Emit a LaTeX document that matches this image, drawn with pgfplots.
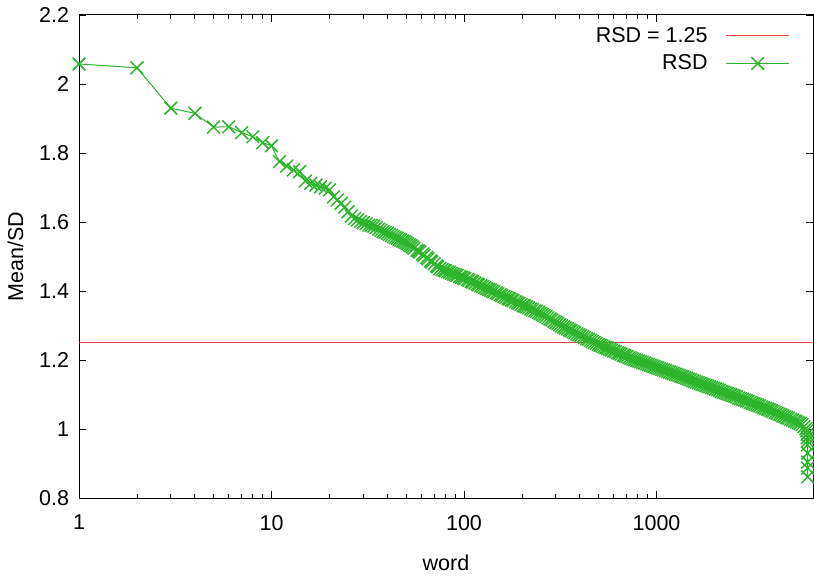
\documentclass[border=0pt]{standalone}
\usepackage{fontspec}
\setmainfont{Liberation Sans}
\usepackage{pgfplots}
\pgfplotsset{compat=1.18}
\definecolor{gpred}{RGB}{235,70,70}
\definecolor{gpgreen}{RGB}{44,181,44}
\begin{document}
\begin{tikzpicture}
\begin{axis}[
  at={(79bp,80bp)}, anchor=south west,
  scale only axis, width=734bp, height=483bp,
  xmode=log, xmin=1, xmax=6500,
  ymin=0.8, ymax=2.2,
  xtick={1,10,100,1000}, xticklabels={1,10,100,1000},
  ytick={0.8,1,1.2,1.4,1.6,1.8,2,2.2},
  /pgf/number format/assume math mode=true,
  tick pos=both, tick align=inside,
  major tick length=7bp, minor tick length=4bp,
  every tick/.style={black, line width=0.9bp},
  axis line style={black, line width=1bp},
  font=\fontsize{21.5bp}{26bp}\selectfont,
  every tick label/.append style={inner sep=0pt, outer sep=0pt},
  yticklabel style={xshift=-10bp},
  xticklabel style={yshift=-17bp},
  every axis x label/.style={at={(axis description cs:0.5,-0.118)}, anchor=north, inner sep=0pt},
  every axis y label/.style={at={(axis description cs:-0.0763,0.5)}, rotate=90, anchor=base, inner sep=0pt},
  xlabel={word}, ylabel={Mean/SD},
  legend plot pos=right,
  legend cell align=right,
  legend style={draw=none, fill=none, at={(axis description cs:0.9687,0.9586)}, anchor=north east,
    inner sep=0pt, column sep=18bp, row sep=13.4bp,
    nodes={inner sep=0pt, text height=0.7em, text depth=0.15em}},
  legend image code/.code={\draw[mark repeat=2,mark phase=2,#1] plot coordinates {(0bp,0.36em) (31.5bp,0.36em) (63bp,0.36em)};},
]
\addplot[gpred, line width=1.3bp] coordinates {(1,1.25) (6500,1.25)};
\addlegendentry{RSD = 1.25}
\addplot[gpgreen, line width=1bp, mark=x, mark size=9bp, mark options={line width=1.5bp}] coordinates {
(1,2.058) (2,2.047) (3,1.930) (4,1.915) (5,1.875) (6,1.876) (7,1.859) (8,1.847) (9,1.830) (10,1.821)
(11,1.775) (12,1.762) (13,1.751) (14,1.746) (15,1.719) (16,1.712) (17,1.707) (18,1.702) (19,1.698) (20,1.693)
(21,1.673) (22,1.664) (23,1.654) (24,1.643) (25,1.630) (26,1.617) (27,1.610) (28,1.606) (29,1.601) (30,1.598)
(31,1.595) (32,1.591) (33,1.590) (34,1.588) (35,1.584) (36,1.579) (37,1.576) (38,1.572) (39,1.570) (40,1.567)
(41,1.564) (42,1.561) (43,1.558) (44,1.555) (45,1.553) (46,1.550) (47,1.548) (48,1.545) (49,1.543) (50,1.540)
(51,1.537) (52,1.534) (53,1.531) (54,1.528) (55,1.524) (57,1.518) (58,1.516) (59,1.513) (61,1.507) (62,1.503)
(64,1.497) (65,1.493) (67,1.487) (68,1.484) (70,1.479) (72,1.473) (73,1.470) (75,1.465) (77,1.462) (79,1.460)
(80,1.459) (82,1.456) (84,1.454) (86,1.451) (88,1.449) (90,1.447) (92,1.445) (95,1.442) (97,1.440) (99,1.438)
(101,1.436) (104,1.433) (106,1.431) (109,1.428) (111,1.426) (114,1.423) (117,1.420) (119,1.418) (122,1.415) (125,1.413)
(128,1.410) (131,1.407) (134,1.405) (137,1.403) (140,1.400) (143,1.398) (147,1.395) (150,1.392) (154,1.389) (157,1.387)
(161,1.384) (165,1.382) (169,1.379) (172,1.377) (176,1.374) (180,1.372) (185,1.369) (189,1.366) (193,1.364) (198,1.361)
(203,1.358) (207,1.356) (212,1.354) (217,1.351) (222,1.348) (227,1.346) (233,1.343) (238,1.341) (244,1.338) (249,1.335)
(255,1.332) (261,1.329) (267,1.326) (273,1.322) (280,1.319) (286,1.316) (293,1.312) (300,1.309) (307,1.306) (314,1.302)
(321,1.299) (329,1.296) (336,1.293) (344,1.290) (352,1.287) (360,1.285) (369,1.282) (377,1.279) (386,1.276) (395,1.273)
(404,1.271) (414,1.268) (423,1.265) (433,1.262) (443,1.260) (454,1.257) (464,1.254) (475,1.251) (486,1.248) (498,1.245)
(509,1.243) (521,1.241) (533,1.238) (546,1.236) (558,1.234) (571,1.231) (585,1.229) (598,1.226) (612,1.224) (627,1.221)
(641,1.219) (656,1.217) (672,1.214) (687,1.212) (703,1.210) (720,1.207) (736,1.205) (754,1.203) (771,1.201) (789,1.199)
(807,1.197) (826,1.195) (845,1.193) (865,1.191) (885,1.189) (906,1.187) (927,1.185) (948,1.183) (970,1.181) (993,1.179)
(1016,1.177) (1040,1.175) (1064,1.173) (1089,1.171) (1114,1.169) (1140,1.167) (1167,1.165) (1194,1.163) (1222,1.161) (1250,1.159)
(1279,1.157) (1309,1.155) (1340,1.153) (1371,1.151) (1403,1.149) (1435,1.147) (1469,1.145) (1503,1.143) (1538,1.140) (1574,1.138)
(1610,1.136) (1648,1.134) (1686,1.132) (1725,1.130) (1765,1.128) (1806,1.126) (1848,1.124) (1891,1.122) (1935,1.120) (1980,1.118)
(2026,1.116) (2073,1.114) (2121,1.112) (2171,1.109) (2221,1.107) (2273,1.105) (2326,1.103) (2380,1.101) (2435,1.099) (2492,1.097)
(2550,1.095) (2609,1.093) (2670,1.090) (2732,1.088) (2795,1.086) (2860,1.084) (2927,1.082) (2995,1.080) (3065,1.077) (3136,1.075)
(3209,1.073) (3284,1.071) (3360,1.069) (3438,1.067) (3518,1.064) (3600,1.062) (3684,1.060) (3770,1.058) (3857,1.056) (3947,1.053)
(4039,1.051) (4133,1.048) (4229,1.046) (4327,1.043) (4428,1.041) (4531,1.038) (4636,1.036) (4744,1.033) (4854,1.031) (4967,1.028)
(5083,1.026) (5201,1.023) (5322,1.021) (5446,1.018) (5572,1.016) (5702,1.013) (5835,1.007) (5970,1.001) (6040,0.995) (6060,0.985)
(6075,0.975) (6085,0.965) (6090,0.954) (6093,0.930) (6096,0.904) (6098,0.887) (6100,0.861)
};
\addlegendentry{RSD}
\end{axis}
\pgfresetboundingbox
\path[use as bounding box] (0,0) rectangle (814bp,578bp);
\end{tikzpicture}
\end{document}
